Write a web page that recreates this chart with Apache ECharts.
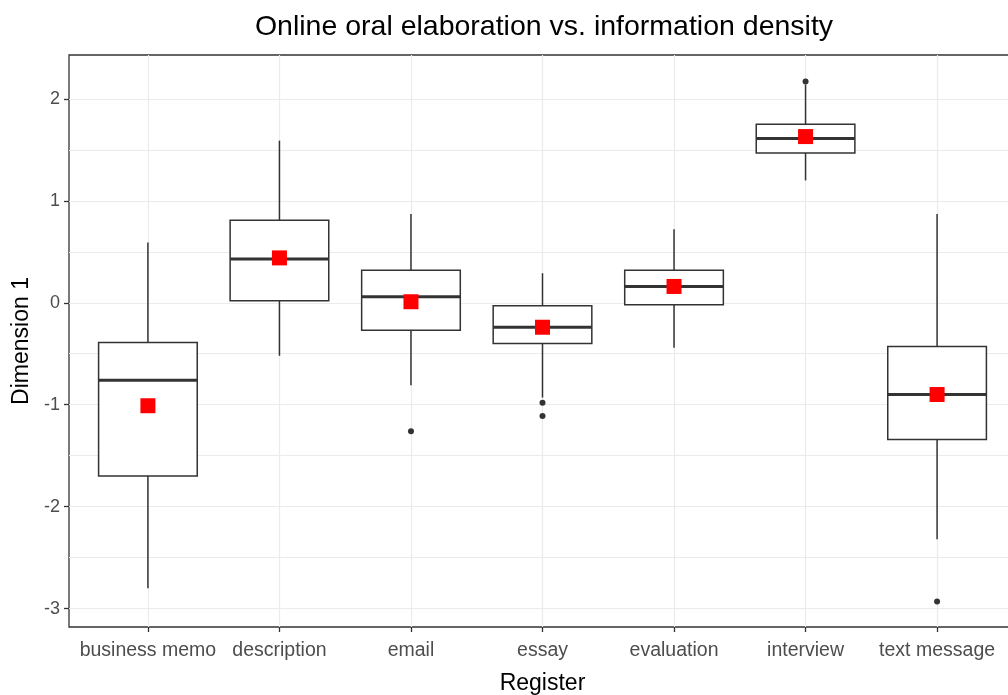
<!DOCTYPE html>
<html>
<head>
<meta charset="utf-8">
<script src="https://cdn.jsdelivr.net/npm/echarts@6/dist/echarts.min.js"></script>
<style>
  html, body { margin: 0; padding: 0; background: #fff; }
  #chart { width: 1008px; height: 695px; }
</style>
</head>
<body>
<div id="chart"></div>
<script>
const categories = ['business memo', 'description', 'email', 'essay', 'evaluation', 'interview', 'text message'];
const whiskerLow  = [-2.80, -0.52, -0.81, -0.93, -0.44, 1.20, -2.32];
const q1          = [-1.70,  0.02, -0.27, -0.40, -0.02, 1.47, -1.34];
const median      = [-0.76,  0.43,  0.06, -0.24,  0.16, 1.61, -0.90];
const q3          = [-0.39,  0.81,  0.32, -0.03,  0.32, 1.75, -0.43];
const whiskerHigh = [ 0.59,  1.59,  0.87,  0.29,  0.72, 2.14,  0.87];
const means       = [-1.01,  0.44,  0.01, -0.24,  0.16, 1.63, -0.90];
const outlierCategory = ['email', 'essay', 'essay', 'interview', 'text message'];
const outlierValue    = [-1.26, -0.98, -1.11, 2.17, -2.93];
const yTicks = [-3, -2, -1, 0, 1, 2];
const xTicks = [1, 2, 3, 4, 5, 6, 7];

const boxData = categories.map((c, i) => [i + 1, whiskerLow[i], q1[i], median[i], q3[i], whiskerHigh[i]]);
const meanData = categories.map((c, i) => [i + 1, means[i]]);
const outlierData = outlierCategory.map((c, i) => [categories.indexOf(c) + 1, outlierValue[i]]);

const FONT = 'Liberation Sans, Arial, sans-serif';
const chart = echarts.init(document.getElementById('chart'), null, { renderer: 'canvas' });

chart.setOption({
  animation: false,
  backgroundColor: '#ffffff',
  title: {
    text: 'Online oral elaboration vs. information density',
    left: 539,
    top: 8,
    textAlign: 'center',
    textStyle: { fontFamily: FONT, fontSize: 28.5, fontWeight: 'normal', color: '#000' }
  },
  grid: {
    left: 69, top: 55, width: 947, height: 572,
    outerBoundsMode: 'none', containLabel: false,
    show: true, borderColor: '#333333', borderWidth: 1.3, backgroundColor: '#ffffff'
  },
  xAxis: {
    type: 'value', min: 0.4, max: 7.6,
    name: 'Register', nameLocation: 'middle', nameGap: 45,
    nameTextStyle: { fontFamily: FONT, fontSize: 23, color: '#000' },
    axisLine: { show: false, onZero: false },
    axisTick: { show: true, length: 5, customValues: xTicks, lineStyle: { color: '#333333', width: 1.3 } },
    axisLabel: {
      customValues: xTicks,
      margin: 14, fontFamily: FONT, fontSize: 19.5, color: '#4D4D4D',
      formatter: v => (Number.isInteger(v) && v >= 1 && v <= categories.length) ? categories[v - 1] : ''
    },
    splitLine: { show: true, lineStyle: { color: '#EBEBEB', width: 1.2 } }
  },
  yAxis: {
    type: 'value', min: -3.18, max: 2.43,
    name: 'Dimension 1', nameLocation: 'middle', nameGap: 35,
    nameTextStyle: { fontFamily: FONT, fontSize: 23, color: '#000' },
    axisLine: { show: false, onZero: false },
    axisTick: { show: true, length: 5, customValues: yTicks, lineStyle: { color: '#333333', width: 1.3 } },
    axisLabel: {
      customValues: yTicks,
      margin: 9, fontFamily: FONT, fontSize: 18, color: '#4D4D4D',
      formatter: v => Number.isInteger(v) ? String(v) : ''
    },
    splitLine: { show: true, lineStyle: { color: '#EBEBEB', width: 1.2 } },
    minorTick: { show: false, splitNumber: 2 },
    minorSplitLine: { show: true, lineStyle: { color: '#EBEBEB', width: 1 } }
  },
  series: [
    {
      type: 'custom',
      data: boxData,
      encode: { x: 0, y: [1, 2, 3, 4, 5] },
      z: 3,
      renderItem: function (params, api) {
        const x = api.value(0);
        const lo = api.coord([x, api.value(1)]);
        const b1 = api.coord([x, api.value(2)]);
        const md = api.coord([x, api.value(3)]);
        const b3 = api.coord([x, api.value(4)]);
        const hi = api.coord([x, api.value(5)]);
        const hw = api.size([0.75, 0])[0] / 2;
        const stroke = '#333333';
        return {
          type: 'group',
          children: [
            { type: 'line', shape: { x1: lo[0], y1: lo[1], x2: b1[0], y2: b1[1] }, style: { stroke: stroke, lineWidth: 1.5 } },
            { type: 'line', shape: { x1: b3[0], y1: b3[1], x2: hi[0], y2: hi[1] }, style: { stroke: stroke, lineWidth: 1.5 } },
            { type: 'rect', shape: { x: b3[0] - hw, y: b3[1], width: hw * 2, height: b1[1] - b3[1] }, style: { fill: '#ffffff', stroke: stroke, lineWidth: 1.5 } },
            { type: 'line', shape: { x1: md[0] - hw, y1: md[1], x2: md[0] + hw, y2: md[1] }, style: { stroke: stroke, lineWidth: 3 } }
          ]
        };
      }
    },
    {
      type: 'scatter',
      data: outlierData,
      symbol: 'circle',
      symbolSize: 6,
      z: 4,
      itemStyle: { color: '#333333', opacity: 1 }
    },
    {
      type: 'scatter',
      data: meanData,
      symbol: 'rect',
      symbolSize: 15,
      z: 5,
      itemStyle: { color: '#FF0000', opacity: 1 }
    }
  ]
});
</script>
</body>
</html>
